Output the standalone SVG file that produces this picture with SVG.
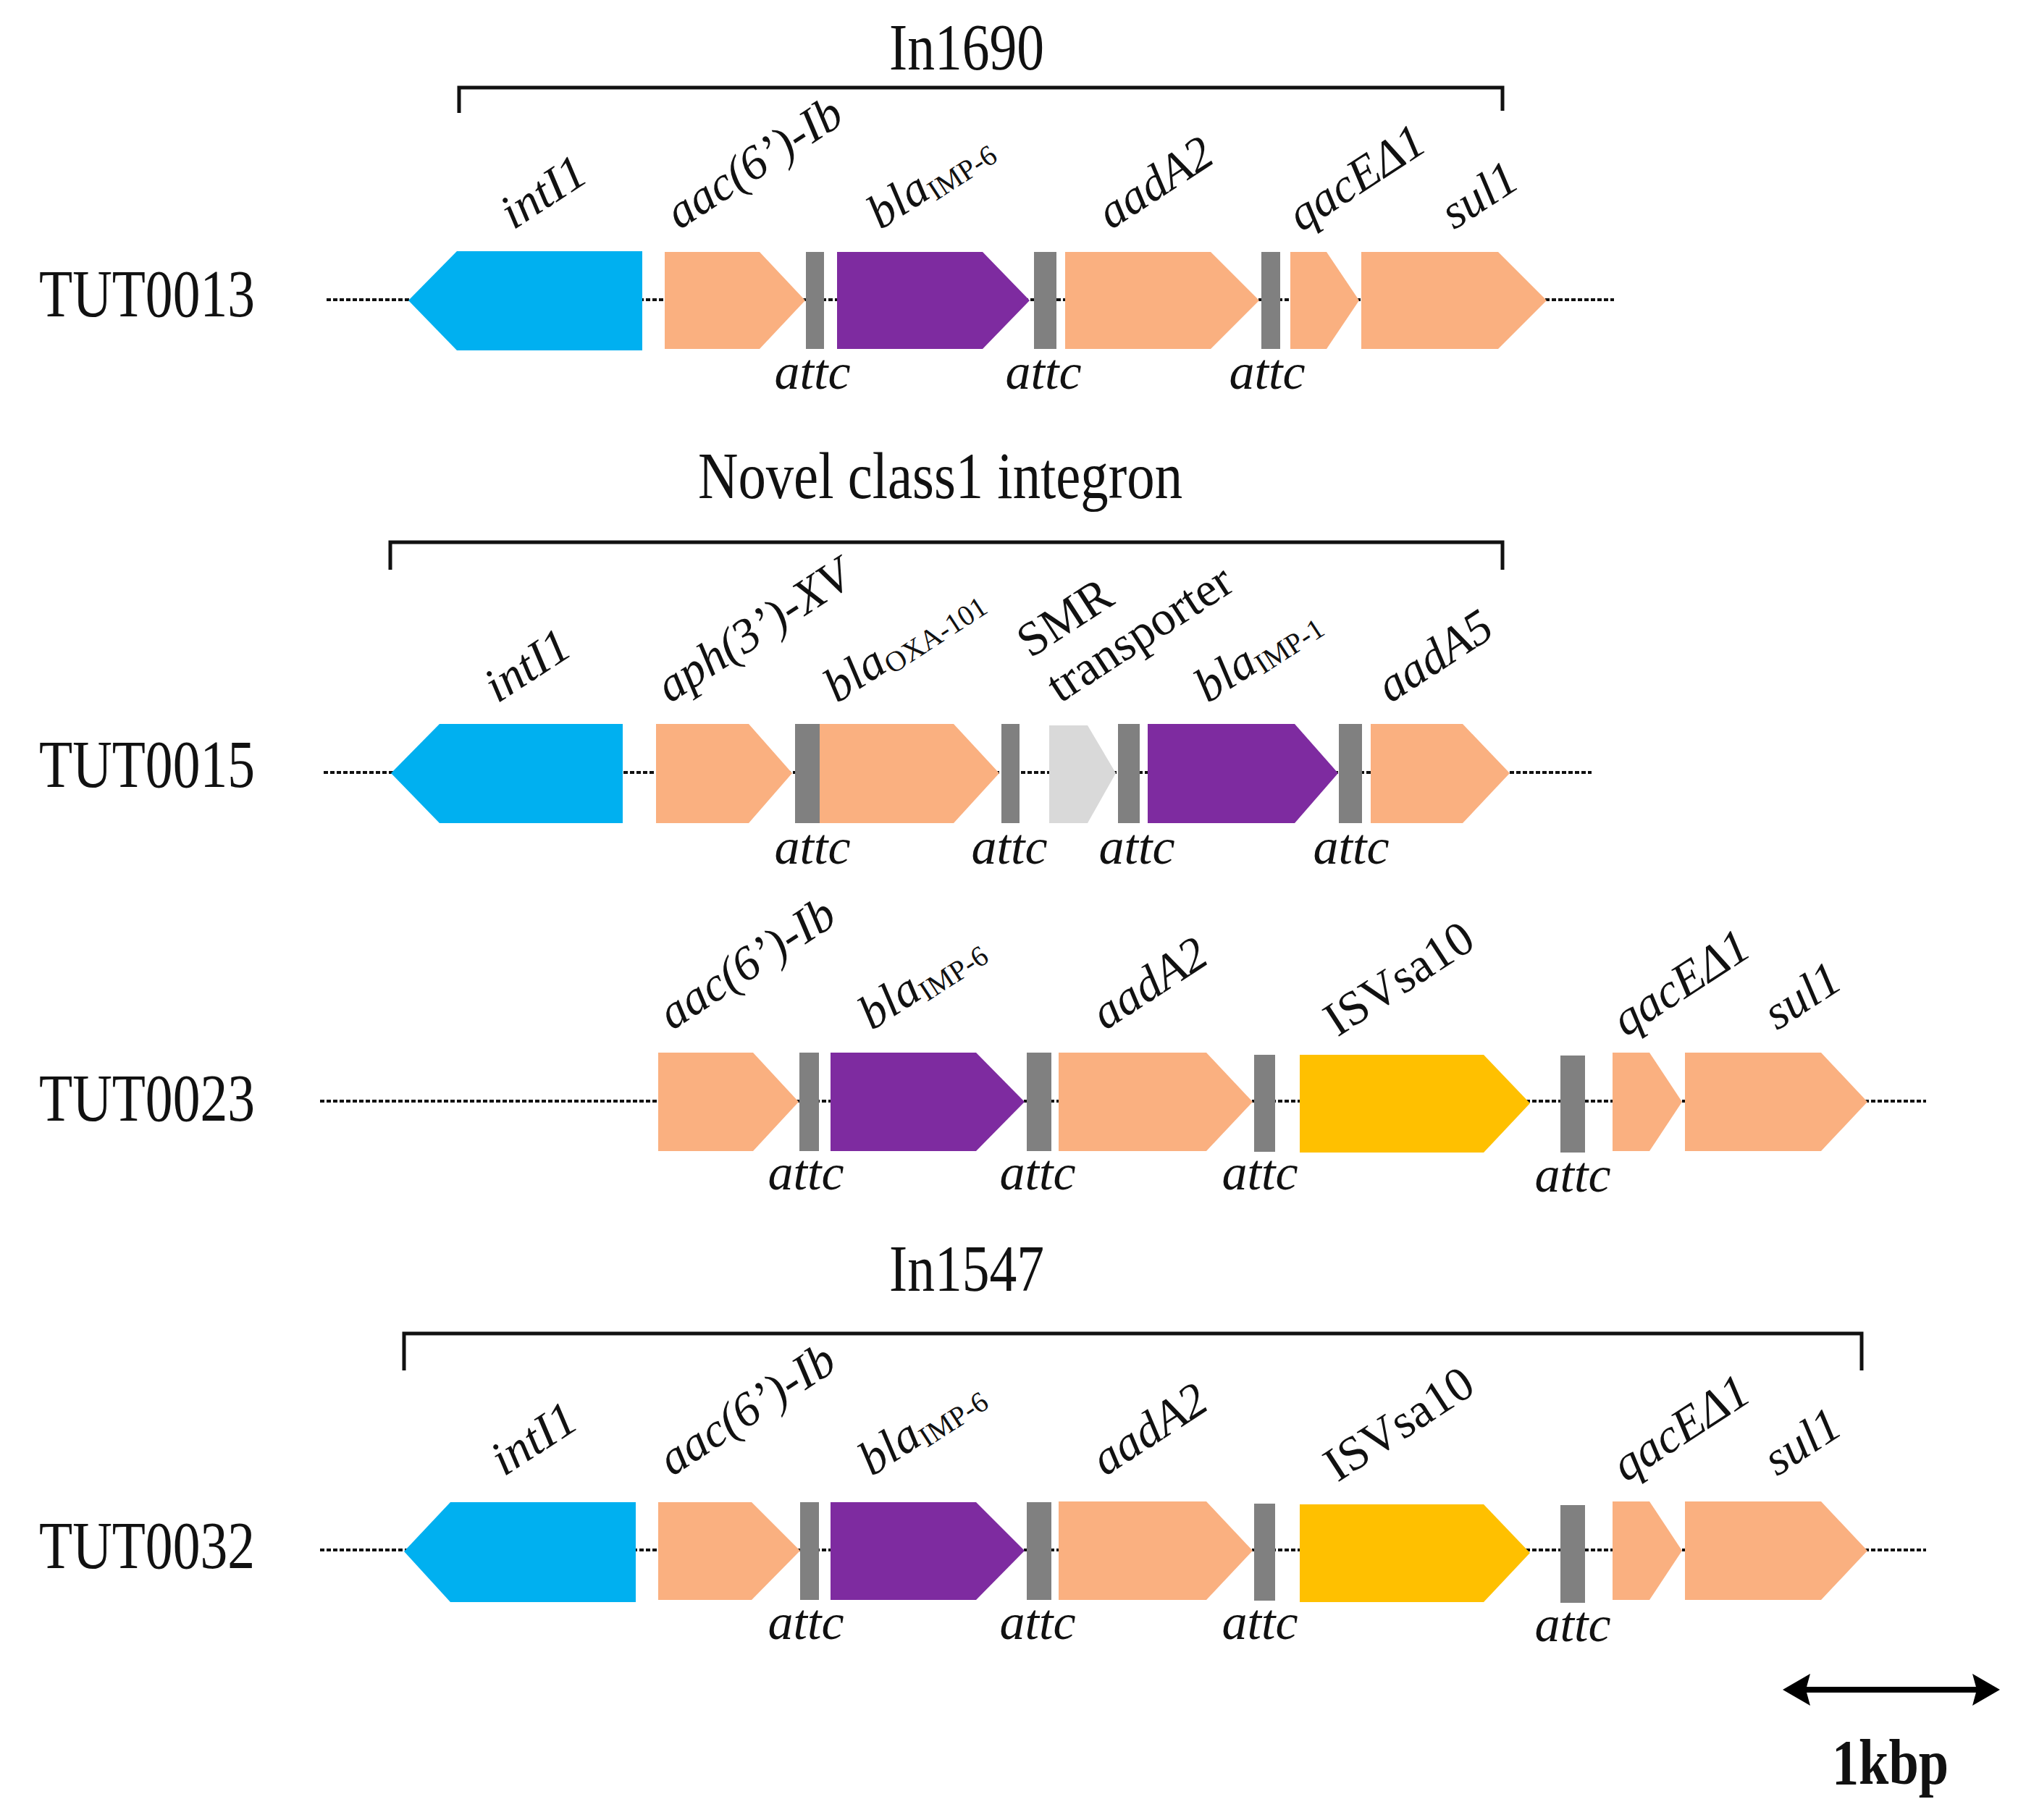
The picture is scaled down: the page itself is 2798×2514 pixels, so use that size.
<svg xmlns="http://www.w3.org/2000/svg" width="2798" height="2514" viewBox="0 0 2798 2514">
<style>
text{font-family:"Liberation Serif","Times New Roman",serif;fill:#111}
.title{font-size:92px}
.strain{font-size:94px}
.gl{font-size:67px;font-style:italic}
.gr{font-size:67px}
.sub{font-size:40px;font-style:normal}
.attc{font-size:70px;font-style:italic;text-anchor:middle}
.bb{stroke:#111;stroke-width:4;stroke-dasharray:6 3;fill:none}
.br{stroke:#111;stroke-width:5;fill:none}
.int{fill:#00B0F0}
.ora{fill:#FAB080}
.pur{fill:#7E2BA0}
.att{fill:#808080}
.smr{fill:#D9D9D9}
.yel{fill:#FFC000}
</style>
<rect width="2798" height="2514" fill="#fff"/>

<g id="connectors">
  <line class="bb" x1="451" y1="414" x2="2229" y2="414"/>
  <line class="bb" x1="447" y1="1067" x2="2198" y2="1067"/>
  <line class="bb" x1="442" y1="1521" x2="2660" y2="1521"/>
  <line class="bb" x1="442" y1="2141" x2="2660" y2="2141"/>
  <path class="br" d="M634,156 V121 H2075 V153"/>
  <path class="br" d="M539,787 V749 H2075 V787"/>
  <path class="br" d="M558,1893 V1842 H2571 V1893"/>
  <g id="scale">
    <line x1="2490" y1="2334" x2="2734" y2="2334" stroke="#000" stroke-width="8"/>
    <path d="M2462,2334 L2500,2312 L2494,2334 L2500,2356 Z" fill="#000"/>
    <path d="M2762,2334 L2724,2312 L2730,2334 L2724,2356 Z" fill="#000"/>
  </g>
</g>

<g id="titles">
  <text class="title" x="1228" y="96" textLength="214" lengthAdjust="spacingAndGlyphs">In1690</text>
  <text class="title" x="964" y="688" textLength="669" lengthAdjust="spacingAndGlyphs">Novel class1 integron</text>
  <text class="title" x="1228" y="1783" textLength="214" lengthAdjust="spacingAndGlyphs">In1547</text>
  <text x="2530" y="2464" font-size="88" font-weight="bold" textLength="161" lengthAdjust="spacingAndGlyphs">1kbp</text>
</g>

<g id="strains">
  <text class="strain" x="54" y="437" textLength="298" lengthAdjust="spacingAndGlyphs">TUT0013</text>
  <text class="strain" x="54" y="1087" textLength="298" lengthAdjust="spacingAndGlyphs">TUT0015</text>
  <text class="strain" x="54" y="1548" textLength="298" lengthAdjust="spacingAndGlyphs">TUT0023</text>
  <text class="strain" x="54" y="2166" textLength="298" lengthAdjust="spacingAndGlyphs">TUT0032</text>
</g>

<!-- Row 1 TUT0013 -->
<g id="r1">
  <g id="r1-intI1"><polygon class="int" points="564,415 631,347 887,347 887,484 631,484"/><text class="gl" transform="translate(709,318) rotate(-33)">intI1</text></g>
  <g id="r1-aac"><polygon class="ora" points="918,348 1049,348 1112,415 1049,482 918,482"/><text class="gl" transform="translate(938,318) rotate(-33)">aac(6’)-Ib</text></g>
  <g id="r1-att1"><rect class="att" x="1113" y="348" width="25" height="134"/><text class="attc" x="1122" y="537">attc</text></g>
  <g id="r1-bla"><polygon class="pur" points="1156,348 1357,348 1422,415 1357,482 1156,482"/><text class="gl" transform="translate(1216,318) rotate(-33)">bla<tspan class="sub" dy="8">IMP-6</tspan></text></g>
  <g id="r1-att2"><rect class="att" x="1428" y="348" width="31" height="134"/><text class="attc" x="1441" y="537">attc</text></g>
  <g id="r1-aadA2"><polygon class="ora" points="1471,348 1672,348 1739,415 1672,482 1471,482"/><text class="gl" transform="translate(1534,318) rotate(-33)">aadA2</text></g>
  <g id="r1-att3"><rect class="att" x="1742" y="348" width="26" height="134"/><text class="attc" x="1750" y="537">attc</text></g>
  <g id="r1-qac"><polygon class="ora" points="1782,348 1832,348 1877,415 1832,482 1782,482"/><text class="gl" transform="translate(1797,321) rotate(-33)">qacEΔ1</text></g>
  <g id="r1-sul1"><polygon class="ora" points="1880,348 2069,348 2136,415 2069,482 1880,482"/><text class="gl" transform="translate(2008,318) rotate(-33)">sul1</text></g>
</g>

<!-- Row 2 TUT0015 -->
<g id="r2">
  <g id="r2-intI1"><polygon class="int" points="540,1068 607,1000 860,1000 860,1137 607,1137"/><text class="gl" transform="translate(687,972) rotate(-33)">intI1</text></g>
  <g id="r2-aph"><polygon class="ora" points="906,1000 1034,1000 1094,1068 1034,1137 906,1137"/><text class="gl" transform="translate(925,972) rotate(-33)">aph(3’)-XV</text></g>
  <g id="r2-att1"><rect class="att" x="1098" y="1000" width="34" height="137"/><text class="attc" x="1122" y="1193">attc</text></g>
  <g id="r2-oxa"><polygon class="ora" points="1132,1000 1317,1000 1380,1068 1317,1137 1132,1137"/><text class="gl" transform="translate(1156,972) rotate(-33)">bla<tspan class="sub" dy="8">OXA-101</tspan></text></g>
  <g id="r2-att2"><rect class="att" x="1383" y="1000" width="25" height="137"/><text class="attc" x="1394" y="1193">attc</text></g>
  <g id="r2-smr"><polygon class="smr" points="1449,1002 1502,1002 1541,1068 1502,1137 1449,1137"/><text class="gr" transform="translate(1423,910) rotate(-33)">SMR</text><text class="gr" transform="translate(1464,972) rotate(-33)">transporter</text></g>
  <g id="r2-att3"><rect class="att" x="1544" y="1000" width="30" height="137"/><text class="attc" x="1570" y="1193">attc</text></g>
  <g id="r2-imp1"><polygon class="pur" points="1585,1000 1788,1000 1848,1068 1788,1137 1585,1137"/><text class="gl" transform="translate(1668,972) rotate(-33)">bla<tspan class="sub" dy="8">IMP-1</tspan></text></g>
  <g id="r2-att4"><rect class="att" x="1849" y="1000" width="32" height="137"/><text class="attc" x="1866" y="1193">attc</text></g>
  <g id="r2-aadA5"><polygon class="ora" points="1893,1000 2020,1000 2085,1068 2020,1137 1893,1137"/><text class="gl" transform="translate(1920,972) rotate(-33)">aadA5</text></g>
</g>

<!-- Row 3 TUT0023 -->
<g id="r3">
  <g id="r3-aac"><polygon class="ora" points="909,1454 1040,1454 1103,1522 1040,1590 909,1590"/><text class="gl" transform="translate(928,1424) rotate(-33)">aac(6’)-Ib</text></g>
  <g id="r3-att1"><rect class="att" x="1104" y="1454" width="27" height="136"/><text class="attc" x="1113" y="1643">attc</text></g>
  <g id="r3-bla"><polygon class="pur" points="1147,1454 1348,1454 1415,1522 1348,1590 1147,1590"/><text class="gl" transform="translate(1204,1424) rotate(-33)">bla<tspan class="sub" dy="8">IMP-6</tspan></text></g>
  <g id="r3-att2"><rect class="att" x="1418" y="1454" width="34" height="136"/><text class="attc" x="1433" y="1643">attc</text></g>
  <g id="r3-aadA2"><polygon class="ora" points="1462,1454 1666,1454 1730,1522 1666,1590 1462,1590"/><text class="gl" transform="translate(1526,1424) rotate(-33)">aadA2</text></g>
  <g id="r3-att3"><rect class="att" x="1732" y="1457" width="29" height="134"/><text class="attc" x="1740" y="1643">attc</text></g>
  <g id="r3-isv"><polygon class="yel" points="1795,1457 2049,1457 2113,1524 2049,1592 1795,1592"/><text class="gr" transform="translate(1847,1433) rotate(-33)">ISVsa10</text></g>
  <g id="r3-att4"><rect class="att" x="2155" y="1458" width="34" height="134"/><text class="attc" x="2172" y="1646">attc</text></g>
  <g id="r3-qac"><polygon class="ora" points="2227,1454 2278,1454 2323,1522 2278,1590 2227,1590"/><text class="gl" transform="translate(2245,1433) rotate(-33)">qacEΔ1</text></g>
  <g id="r3-sul1"><polygon class="ora" points="2327,1454 2515,1454 2579,1522 2515,1590 2327,1590"/><text class="gl" transform="translate(2454,1424) rotate(-33)">sul1</text></g>
</g>

<!-- Row 4 TUT0032 -->
<g id="r4">
  <g id="r4-intI1"><polygon class="int" points="558,2143 622,2075 878,2075 878,2213 622,2213"/><text class="gl" transform="translate(696,2040) rotate(-33)">intI1</text></g>
  <g id="r4-aac"><polygon class="ora" points="909,2075 1038,2075 1105,2142 1038,2210 909,2210"/><text class="gl" transform="translate(928,2040) rotate(-33)">aac(6’)-Ib</text></g>
  <g id="r4-att1"><rect class="att" x="1105" y="2075" width="26" height="135"/><text class="attc" x="1113" y="2264">attc</text></g>
  <g id="r4-bla"><polygon class="pur" points="1147,2075 1348,2075 1415,2142 1348,2210 1147,2210"/><text class="gl" transform="translate(1204,2040) rotate(-33)">bla<tspan class="sub" dy="8">IMP-6</tspan></text></g>
  <g id="r4-att2"><rect class="att" x="1418" y="2075" width="34" height="135"/><text class="attc" x="1433" y="2264">attc</text></g>
  <g id="r4-aadA2"><polygon class="ora" points="1462,2074 1666,2074 1730,2142 1666,2210 1462,2210"/><text class="gl" transform="translate(1526,2040) rotate(-33)">aadA2</text></g>
  <g id="r4-att3"><rect class="att" x="1732" y="2077" width="29" height="134"/><text class="attc" x="1740" y="2264">attc</text></g>
  <g id="r4-isv"><polygon class="yel" points="1795,2078 2049,2078 2113,2145 2049,2213 1795,2213"/><text class="gr" transform="translate(1847,2048) rotate(-33)">ISVsa10</text></g>
  <g id="r4-att4"><rect class="att" x="2155" y="2079" width="34" height="135"/><text class="attc" x="2172" y="2267">attc</text></g>
  <g id="r4-qac"><polygon class="ora" points="2227,2074 2278,2074 2323,2142 2278,2210 2227,2210"/><text class="gl" transform="translate(2245,2048) rotate(-33)">qacEΔ1</text></g>
  <g id="r4-sul1"><polygon class="ora" points="2327,2074 2515,2074 2579,2142 2515,2210 2327,2210"/><text class="gl" transform="translate(2454,2040) rotate(-33)">sul1</text></g>
</g>
</svg>
